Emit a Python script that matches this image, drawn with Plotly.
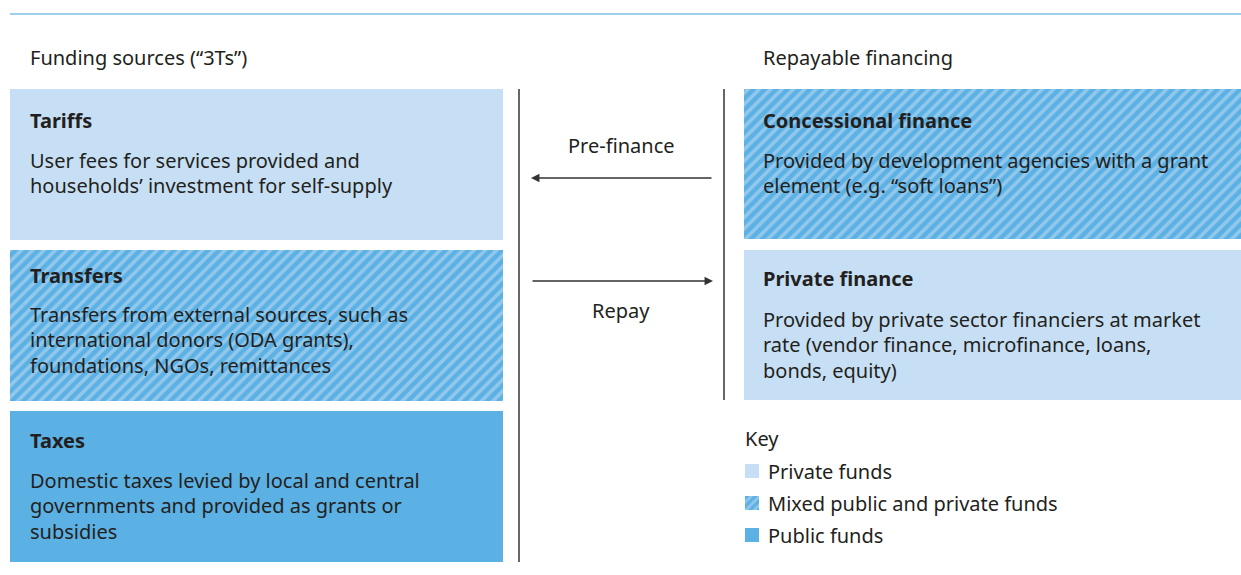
import plotly.graph_objects as go

# box content
left_titles = ['Tariffs', 'Transfers', 'Taxes']
left_desc = [
    ['User fees for services provided and', 'households\u2019 investment for self-supply'],
    ['Transfers from external sources, such as', 'international donors (ODA grants),', 'foundations, NGOs, remittances'],
    ['Domestic taxes levied by local and central', 'governments and provided as grants or', 'subsidies'],
]
left_kind = ['private', 'mixed', 'public']

right_titles = ['Concessional finance', 'Private finance']
right_desc = [
    ['Provided by development agencies with a grant', 'element (e.g. \u201csoft loans\u201d)'],
    ['Provided by private sector financiers at market', 'rate (vendor finance, microfinance, loans,', 'bonds, equity)'],
]
right_kind = ['mixed', 'private']

key_labels = ['Private funds', 'Mixed public and private funds', 'Public funds']
key_kind = ['private', 'mixed', 'public']

LIGHT = '#C7DFF4'
MID = '#5BB0E4'
TXT = '#231F20'
FONT = 'Noto Sans'
FS = 20

fig = go.Figure()


def box(x0, x1, y0, y1, kind, psize=8):
    xs = [x0, x1, x1, x0, x0]
    ys = [y0, y0, y1, y1, y0]
    kw = dict(x=xs, y=ys, mode='lines', fill='toself', line=dict(width=0),
              hoverinfo='skip', showlegend=False)
    if kind == 'private':
        kw['fillcolor'] = LIGHT
    elif kind == 'public':
        kw['fillcolor'] = MID
    else:
        kw['fillcolor'] = MID
        kw['fillpattern'] = dict(shape='/', bgcolor=MID, fgcolor=LIGHT,
                                 size=psize, solidity=0.45)
    fig.add_trace(go.Scatter(**kw))


def text(x, y, s, bold=False, size=FS, anchor='left'):
    # annotations carry ~2px of padding, pull left-anchored text back
    if anchor == 'left':
        x -= 2
    fig.add_annotation(x=x, y=y, text=f'<b>{s}</b>' if bold else s, showarrow=False,
                       xanchor=anchor, yanchor='middle',
                       font=dict(family=FONT, size=size, color=TXT))


# left column
tops = [89, 250, 411]
title_off = [31, 25, 29]
desc_off = [71, 64, 69]
for i, t in enumerate(left_titles):
    y0 = tops[i]
    box(10, 503, y0, y0 + 151, left_kind[i])
    text(30, y0 + title_off[i], t, bold=True)
    for j, line in enumerate(left_desc[i]):
        text(30, y0 + desc_off[i] + j * 25.5, line)

# right column
r_title_off = [31, 28]
r_desc_off = [71, 69]
for i, t in enumerate(right_titles):
    y0 = tops[i]
    box(744, 1241, y0, y0 + 150, right_kind[i])
    text(763, y0 + r_title_off[i], t, bold=True)
    for j, line in enumerate(right_desc[i]):
        text(763, y0 + r_desc_off[i] + j * 25.5, line)

# headers
text(30, 57, 'Funding sources (\u201c3Ts\u201d)')
text(763, 57, 'Repayable financing')

# key
text(745, 438, 'Key')
for i, lab in enumerate(key_labels):
    yc = 471 + i * 32
    box(745, 759, yc - 7, yc + 7, key_kind[i], psize=6)
    text(768, yc, lab)

# lines
fig.add_shape(type='line', x0=10, x1=1241, y0=14, y1=14, line=dict(color='#7DC2E9', width=1.5))
fig.add_shape(type='line', x0=519, x1=519, y0=89, y1=562, line=dict(color='#333333', width=1.5))
fig.add_shape(type='line', x0=724, x1=724, y0=89, y1=400, line=dict(color='#333333', width=1.5))

# arrows
text(621, 145, 'Pre-finance', anchor='center')
text(621, 310, 'Repay', anchor='center')
fig.add_annotation(x=531, y=178, ax=713, ay=178, xref='x', yref='y', axref='x', ayref='y',
                   showarrow=True, arrowhead=2, arrowsize=1.3, arrowwidth=1.3,
                   arrowcolor='#333333', text='')
fig.add_annotation(x=713, y=281, ax=531, ay=281, xref='x', yref='y', axref='x', ayref='y',
                   showarrow=True, arrowhead=2, arrowsize=1.3, arrowwidth=1.3,
                   arrowcolor='#333333', text='')

fig.update_layout(
    width=1241, height=575, margin=dict(l=0, r=0, t=0, b=0),
    paper_bgcolor='white', plot_bgcolor='white',
    xaxis=dict(range=[0, 1241], visible=False, fixedrange=True),
    yaxis=dict(range=[575, 0], visible=False, fixedrange=True),
    showlegend=False,
)
fig.write_html('out.html', config={'displayModeBar': False},
               post_script="document.body.style.margin='0';document.body.style.overflow='hidden';")
